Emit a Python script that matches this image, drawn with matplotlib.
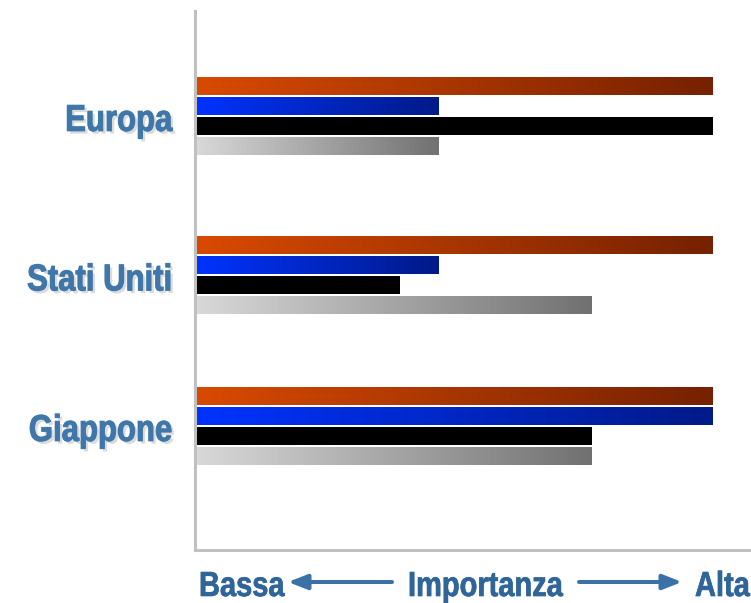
import numpy as np
import matplotlib
matplotlib.use("Agg")
import matplotlib.pyplot as plt
from matplotlib import patheffects
from matplotlib.colors import LinearSegmentedColormap
from matplotlib.patches import FancyArrowPatch
from matplotlib.transforms import Affine2D, ScaledTranslation

# importance per area, scale 0-100 (100 = alta)
regions = ["Europa", "Stati Uniti", "Giappone"]
serie_arancio = [100, 100, 100]
serie_blu = [47, 47, 100]
serie_nera = [100, 39.5, 76.5]
serie_grigia = [47, 76.5, 76.5]

label_col = "#3f77aa"
axis_col = "#2f6599"
font = "Liberation Sans"
TALL = 1.2  # glyphs drawn taller than wide, like a narrow face


class TallNormal(patheffects.Normal):
    def draw_path(self, renderer, gc, tpath, affine, rgbFace=None):
        renderer.draw_path(gc, tpath, Affine2D().scale(1, TALL) + affine, rgbFace)


class TallStroke(patheffects.Stroke):
    def draw_path(self, renderer, gc, tpath, affine, rgbFace):
        super().draw_path(renderer, gc, tpath, Affine2D().scale(1, TALL) + affine, rgbFace)


class TallShadow(patheffects.SimplePatchShadow):
    def draw_path(self, renderer, gc, tpath, affine, rgbFace):
        super().draw_path(renderer, gc, tpath, Affine2D().scale(1, TALL) + affine, rgbFace)


fig = plt.figure(figsize=(7.51, 6.03), dpi=100)
ax = fig.add_axes([0.259, 0.088, 0.741, 0.894])

series = [
    (serie_arancio, ["#d94a00", "#762100"]),
    (serie_blu, ["#0033ff", "#001a88"]),
    (serie_nera, ["#000000", "#000000"]),
    (serie_grigia, ["#d9d9d9", "#717171"]),
]

# y axis in pixels from the top of the plot area
group_pos = np.array([105.5, 265.0, 415.5])
pitch = 20
h = 17
for j, (vals, cols) in enumerate(series):
    cmap = LinearSegmentedColormap.from_list("g%d" % j, cols)
    ys = group_pos + (j - 1.5) * pitch
    bars = ax.barh(ys, vals, height=h, color="none", edgecolor="none")
    for b in bars:
        x, y = b.get_x(), b.get_y()
        w, hh = b.get_width(), b.get_height()
        grad = np.linspace(0, 1, 256).reshape(1, -1)
        ax.imshow(grad, cmap=cmap, aspect="auto", interpolation="bicubic",
                  extent=[x, x + w, y + hh, y], zorder=2)

ax.set_xlim(0, 107.5)
ax.set_ylim(539, 0)

for s in ["top", "right"]:
    ax.spines[s].set_visible(False)
for s in ["left", "bottom"]:
    ax.spines[s].set_color("#c0c0c0")
    ax.spines[s].set_linewidth(2.2)

ax.set_xticks([])
ax.set_yticks(group_pos)
ax.set_yticklabels(regions, fontfamily=font, fontweight="bold", fontsize=22.4,
                   color=label_col, va="baseline")
ax.tick_params(axis="y", length=0, pad=16)
shift = ScaledTranslation(0, -14.5 / 100, fig.dpi_scale_trans)
label_fx = [TallShadow(offset=(2, -2), shadow_rgbFace="#8a8a8a", alpha=0.3),
            TallStroke(linewidth=0.7, foreground=label_col), TallNormal()]
for t in ax.get_yticklabels():
    t.set_transform(t.get_transform() + shift)
    t.set_path_effects(label_fx)

# Bassa <- Importanza -> Alta
W, H = 751.0, 603.0
base = 1 - 596 / H
tk = dict(fontfamily=font, fontweight="bold", fontsize=20.9, color=axis_col, va="baseline",
          path_effects=[TallStroke(linewidth=0.5, foreground=axis_col), TallNormal()])
fig.text(199 / W, base, "Bassa", ha="left", **tk)
fig.text(408 / W, base, "Importanza", ha="left", **tk)
fig.text(695 / W, base, "Alta", ha="left", **tk)
ay = 1 - 582 / H
arr = dict(arrowstyle="-|>,head_length=1.15,head_width=0.45", color="#3a72a8", lw=2.9,
           shrinkA=0, shrinkB=0, mutation_scale=10, transform=fig.transFigure)
fig.add_artist(FancyArrowPatch((392 / W, ay), (288 / W, ay), **arr))
fig.add_artist(FancyArrowPatch((579 / W, ay), (682 / W, ay), **arr))

fig.savefig("out.png", dpi=100)
